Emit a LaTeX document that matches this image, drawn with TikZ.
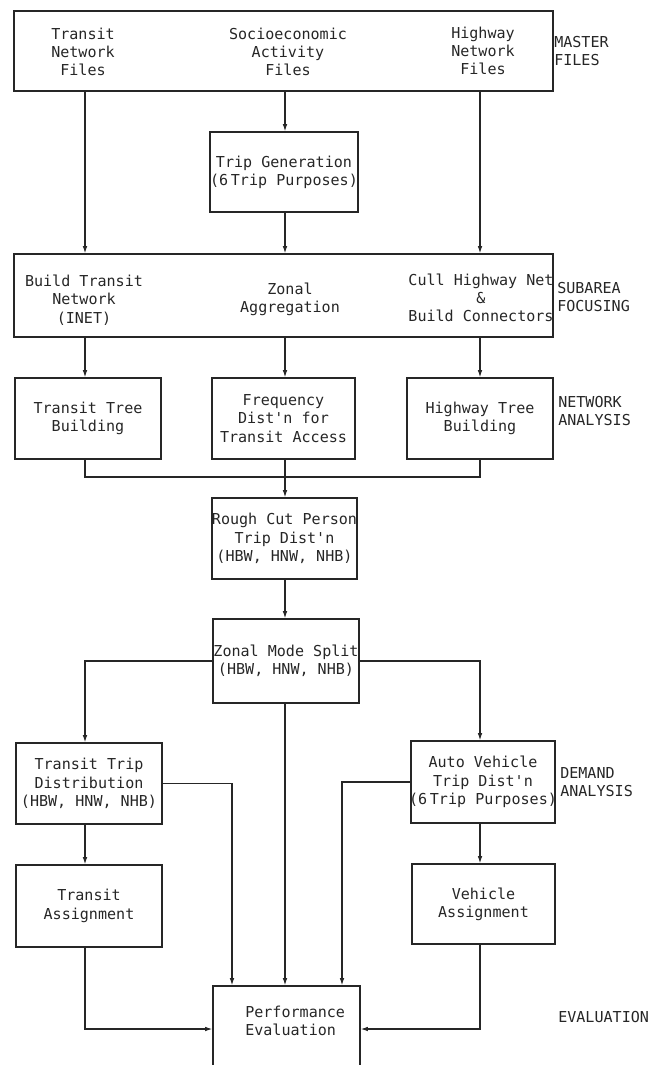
\documentclass[tikz,border=0pt]{standalone}
\usepackage{fontspec}
\setmonofont{DejaVu Sans Mono}
\usetikzlibrary{positioning}
\usetikzlibrary{arrows.meta}

\begin{document}
\begin{tikzpicture}
[x=0.75pt, y=-0.75pt,
every node/.style={font=\fontsize{11.3}{13.7}\selectfont\ttfamily, inner sep=0pt, text=black!85},
% The stage style is used to draw the boxes of the chart (width, height)
stage/.style 2 args={rectangle, draw=black!85, line width=0.9pt, align=center, inner xsep=-8pt, minimum width=#1*0.75pt, minimum height=#2*0.75pt},
% The txt style is used to write the texts inside the wide boxes
txt/.style={align=center},
% The tier style is used to write the name of each level on the right
tier/.style={anchor=west, align=left},
flow/.style={draw=black!85, line width=0.9pt, -{Latex[length=5.5pt,width=3.5pt]}},
link/.style={draw=black!85, line width=0.9pt}
]
\useasboundingbox (0,0) rectangle (653,1065);
\coordinate (colL) at (85,0);
\coordinate (colM) at (285,0);
\coordinate (colR) at (480,0);
\coordinate (inL) at (232,0);
\coordinate (inR) at (342,0);
% Master files
\node[stage={539}{80}] (master) at (283.5,51) {};
\node[txt] (tnf) at (83,52) {Transit\\Network\\Files};
\node[txt] (saf) at (288,52) {Socioeconomic\\Activity\\Files};
\node[txt] (hnf) at (483,51) {Highway\\Network\\Files};
\node[stage={148}{80}] (tripgen) at (284,172) {Trip Generation\\(6\hspace{2pt}Trip Purposes)};
% Subarea focusing
\node[stage={539}{83}] (subarea) at (283.5,295.5) {};
\node[txt] (btn) at (84,300) {Build Transit\\Network\\(INET)};
\node[txt] (zag) at (290,299) {Zonal\\Aggregation};
\node[txt] (chn) at (481,298) {Cull Highway Net\\\&\\Build Connectors};
% Network analysis
\node[stage={146}{81}] (ttree) at (88,418.5) {Transit Tree\\Building};
\node[stage={143}{81}] (freq) at (283.5,418.5) {Frequency\\Dist'n for\\Transit Access};
\node[stage={146}{81}] (htree) at (480,418.5) {Highway Tree\\Building};
\coordinate (merge) at (285,477);
\node[stage={145}{81}] (rough) at (284.5,538.5) {Rough Cut Person\\Trip Dist'n\\(HBW, HNW, NHB)};
\node[stage={146}{84}] (zms) at (286,661) {Zonal Mode Split\\(HBW, HNW, NHB)};
% Demand analysis
\node[stage={146}{81}] (ttd) at (89,783.5) {Transit Trip\\Distribution\\(HBW, HNW, NHB)};
\node[stage={144}{82}] (avt) at (483,782) {Auto Vehicle\\Trip Dist'n\\(6\hspace{2pt}Trip Purposes)};
\node[stage={146}{82}] (tass) at (89,906) {Transit\\Assignment};
\node[stage={143}{80}] (vass) at (483.5,904) {Vehicle\\Assignment};
% Evaluation
\node[stage={147}{86}] (perf) at (286.5,1029) {};
\node[tier] (pet) at (245,1021) {Performance\\Evaluation};
% Level names
\node[tier] (mf) at (554,51) {MASTER\\FILES};
\node[tier] (sf) at (557,297) {SUBAREA\\FOCUSING};
\node[tier] (na) at (558,411) {NETWORK\\ANALYSIS};
\node[tier] (da) at (560,782) {DEMAND\\ANALYSIS};
\node[tier] (ev) at (558,1017) {EVALUATION};
% Draw connectors
\draw[flow] (colL |- master.south) -- (colL |- subarea.north);
\draw[flow] (colM |- master.south) -- (colM |- tripgen.north);
\draw[flow] (colM |- tripgen.south) -- (colM |- subarea.north);
\draw[flow] (colR |- master.south) -- (colR |- subarea.north);
\draw[flow] (colL |- subarea.south) -- (colL |- ttree.north);
\draw[flow] (colM |- subarea.south) -- (colM |- freq.north);
\draw[flow] (colR |- subarea.south) -- (colR |- htree.north);
\draw[link] (colL |- ttree.south) |- (merge) -| (colR |- htree.south);
\draw[link] (colM |- freq.south) -- (merge);
\draw[flow] (merge) -- (colM |- rough.north);
\draw[flow] (colM |- rough.south) -- (colM |- zms.north);
\draw[flow] (zms.west) -| (colL |- ttd.north);
\draw[flow] (zms.east) -| (colR |- avt.north);
\draw[flow] (colL |- ttd.south) -- (colL |- tass.north);
\draw[flow] (colR |- avt.south) -- (colR |- vass.north);
\draw[flow] (ttd.east) -| (inL |- perf.north);
\draw[flow] (colM |- zms.south) -- (colM |- perf.north);
\draw[flow] (avt.west) -| (inR |- perf.north);
\draw[flow] (colL |- tass.south) |- (perf.west);
\draw[flow] (colR |- vass.south) |- (perf.east);
\end{tikzpicture}
\end{document}
